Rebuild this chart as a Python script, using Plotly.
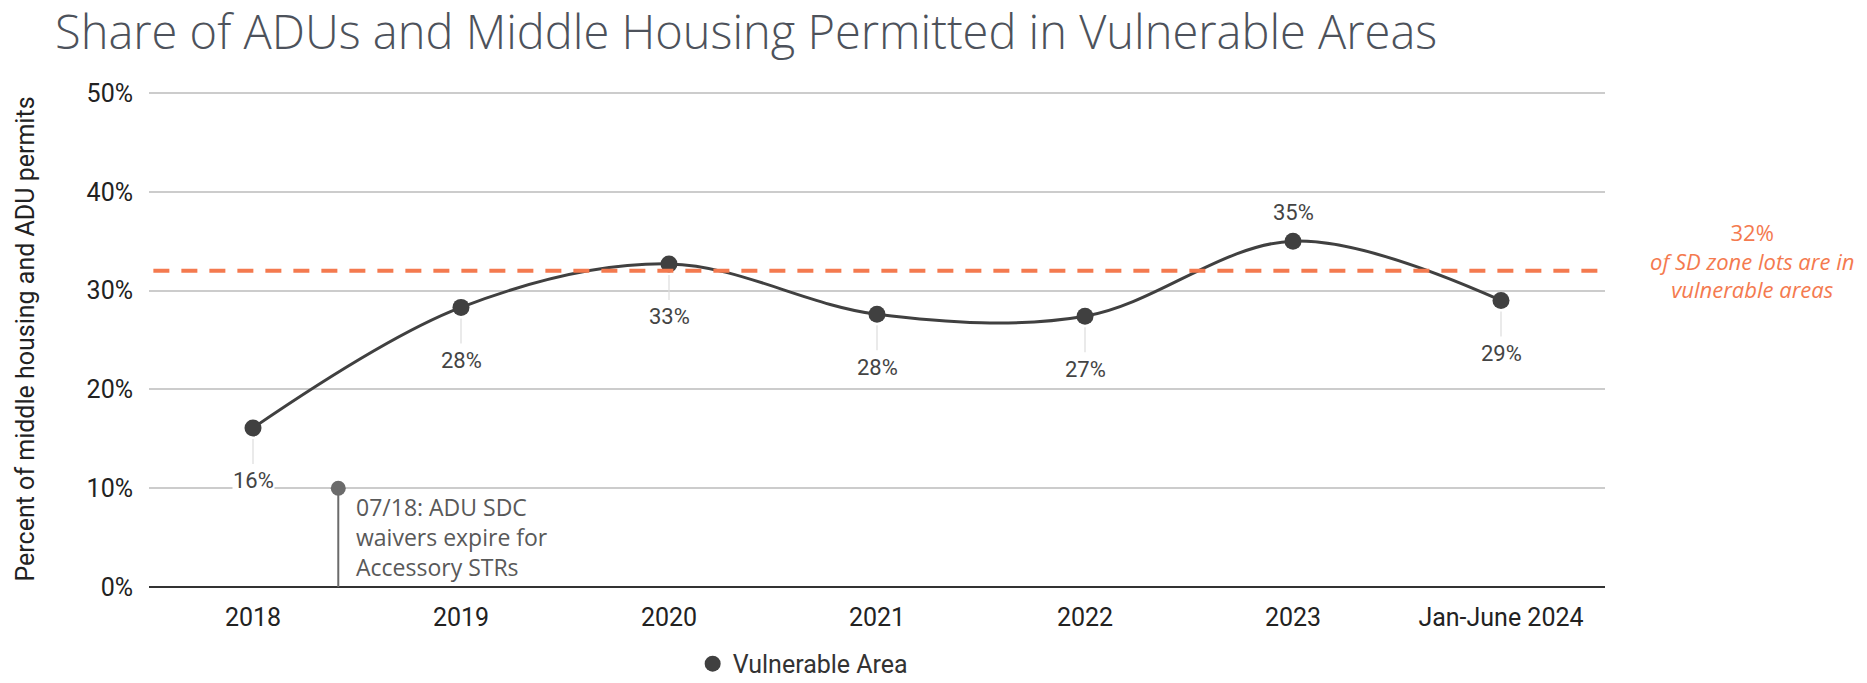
import plotly.graph_objects as go

categories = ["2018", "2019", "2020", "2021", "2022", "2023", "Jan-June 2024"]
values = [16.1, 28.3, 32.7, 27.6, 27.4, 35.0, 29.0]
labels = ["16%", "28%", "33%", "28%", "27%", "35%", "29%"]
label_above = [False, False, False, False, False, True, False]
y_ticks = [0, 10, 20, 30, 40, 50]
y_tick_text = ["0%", "10%", "20%", "30%", "40%", "50%"]
reference_value = 32
event_x = 0.41
event_y = 10
event_text = "07/18: ADU SDC<br>waivers expire for<br>Accessory STRs"

xs = list(range(len(categories)))
dark = "#404040"
orange = "#f47a4f"

fig = go.Figure()
fig.add_trace(go.Scatter(x=xs, y=values, mode="lines", line=dict(color=dark, width=3, shape="spline", smoothing=1.0),
                         showlegend=False, hoverinfo="skip"))
fig.add_trace(go.Scatter(x=xs, y=values, mode="markers", marker=dict(color=dark, size=17),
                         name="Vulnerable Area"))
fig.add_trace(go.Scatter(x=[event_x], y=[event_y], mode="markers", marker=dict(color="#6b6b6b", size=15),
                         showlegend=False, hoverinfo="skip"))

# reference dashed line
fig.add_shape(type="line", xref="paper", x0=0.003, x1=0.995, yref="y", y0=reference_value, y1=reference_value,
              line=dict(color=orange, width=4, dash="16px,12px"))
# event vertical line
fig.add_shape(type="line", xref="x", x0=event_x, x1=event_x, yref="y", y0=0, y1=event_y,
              line=dict(color="#6b6b6b", width=2))

for i, (v, t, up) in enumerate(zip(values, labels, label_above)):
    if up:
        fig.add_annotation(x=i, y=v, text=t, showarrow=False, yshift=29,
                           font=dict(family="Roboto", size=22, color="#444444"), bgcolor="white")
    else:
        fig.add_annotation(x=i, y=v, text=t, showarrow=True, arrowhead=0, ax=0, ay=53,
                           arrowcolor="#dddddd", arrowwidth=1.2, standoff=11, startstandoff=4,
                           font=dict(family="Roboto", size=22, color="#444444"), bgcolor="white", borderpad=0)

fig.add_annotation(x=event_x, y=event_y, text=event_text, showarrow=False, xanchor="left", yanchor="top",
                   align="left", xshift=16, yshift=-1,
                   font=dict(family="Open Sans", size=23, color="#595959"))

fig.add_annotation(xref="paper", x=1.101, y=33.0, text="32%<br><i>of SD zone lots are in</i><br><i>vulnerable areas</i>",
                   showarrow=False, xanchor="center", yanchor="middle", align="center",
                   font=dict(family="Open Sans", size=22, color=orange))

fig.update_layout(
    width=1867, height=683,
    margin=dict(l=149, r=262, t=91, b=96),
    paper_bgcolor="white", plot_bgcolor="white",
    title=dict(text="Share of ADUs and Middle Housing Permitted in Vulnerable Areas",
               x=55 / 1867, xanchor="left", y=0.952, yanchor="middle",
               font=dict(family="Open Sans", size=47, color="#4d525b", weight=300)),
    xaxis=dict(range=[-0.5, 6.5], tickvals=xs, ticktext=categories, showgrid=False, zeroline=False,
               showline=False, ticks="outside", ticklen=8, tickcolor="rgba(0,0,0,0)", automargin=False,
               tickfont=dict(family="Roboto", size=25, color="#222222")),
    yaxis=dict(range=[0, 50.2], tickvals=y_ticks, ticktext=y_tick_text, showgrid=True, gridcolor="#cccccc",
               gridwidth=1.5, zeroline=True, zerolinecolor="#333333", zerolinewidth=2,
               ticks="outside", ticklen=10, tickcolor="rgba(0,0,0,0)", automargin=False,
               tickfont=dict(family="Roboto", size=25, color="#222222"),
               title=dict(text="Percent of middle housing and ADU permits", standoff=44,
                          font=dict(family="Roboto", size=25, color="#222222"))),
    legend=dict(orientation="h", xref="container", yref="container", x=0.371, xanchor="left",
                y=0.028, yanchor="middle",
                font=dict(family="Roboto", size=25, color="#333333"), itemsizing="trace"),
    showlegend=True,
)

fig.write_html("out.html", config={"displayModeBar": False},
               post_script="document.body.style.margin='0px';document.body.style.overflow='hidden';")
